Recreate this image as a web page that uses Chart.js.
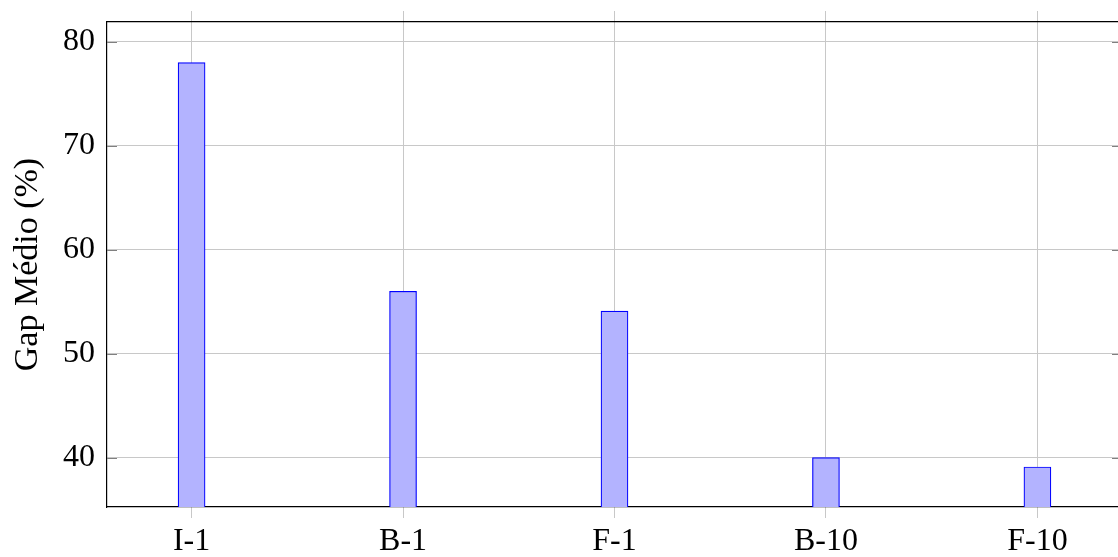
<!DOCTYPE html>
<html>
<head>
<meta charset="utf-8">
<script src="https://cdn.jsdelivr.net/npm/chart.js@4"></script>
<style>
  html, body { margin: 0; padding: 0; background: #fff; overflow: hidden; }
  #wrap { width: 1130px; height: 557px; position: relative; }
</style>
</head>
<body>
<div id="wrap"><canvas id="c"></canvas></div>
<script>
var categories = ['I-1', 'B-1', 'F-1', 'B-10', 'F-10']
var gapMedio = [78, 56, 54.1, 40, 39.1]
var yTicks = [40, 50, 60, 70, 80]

var FONT = '"Liberation Serif", "Times New Roman", serif'
var GRID = '#c8c8c8'

function catTicks(s) { s.ticks = categories.map(function(c, i) { return {value: i} }) }

// pgfplots draws the y ticks inside the axes, chart.js only outside
var innerTicks = {
  id: 'innerTicks',
  afterDraw: function(chart) {
    var ctx = chart.ctx, a = chart.chartArea, y = chart.scales.y
    ctx.save()
    ctx.strokeStyle = '#808080'
    ctx.lineWidth = 1
    yTicks.forEach(function(v) {
      var py = Math.round(y.getPixelForValue(v)) + 0.5
      ctx.beginPath()
      ctx.moveTo(a.left, py); ctx.lineTo(a.left + 10, py)
      ctx.moveTo(a.right - 10, py); ctx.lineTo(a.right, py)
      ctx.stroke()
    })
    ctx.restore()
  }
}

new Chart(document.getElementById('c'), {
  type: 'bar',
  data: {
    datasets: [{
      data: gapMedio.map(function(v, i) { return {x: i, y: v} }),
      backgroundColor: '#b3b3ff',
      borderColor: '#0000ff',
      borderWidth: 1.2,
      borderSkipped: false,
      barThickness: 27
    }]
  },
  options: {
    responsive: true,
    maintainAspectRatio: false,
    animation: false,
    layout: { padding: { top: 0, right: 8, bottom: 0, left: 0 } },
    plugins: { legend: { display: false }, tooltip: { enabled: false } },
    scales: {
      x: {
        type: 'linear',
        offset: false,
        min: -0.4, max: 4.4,
        afterBuildTicks: catTicks,
        afterFit: function(s) { s.height = 50; s.paddingLeft = 0; s.paddingRight = 0 },
        ticks: {
          callback: function(v) { return categories[v] },
          font: { family: FONT, size: 32 },
          color: '#000',
          padding: 4,
          maxRotation: 0
        },
        grid: { offset: false, color: GRID, tickColor: GRID, tickLength: 11, lineWidth: 1 },
        border: { color: '#000', width: 1.2 }
      },
      x2: {
        type: 'linear',
        position: 'top',
        offset: false,
        min: -0.4, max: 4.4,
        afterBuildTicks: catTicks,
        afterFit: function(s) { s.height = 22; s.paddingLeft = 0; s.paddingRight = 0 },
        ticks: { display: false },
        grid: { offset: false, drawOnChartArea: false, tickColor: GRID, tickLength: 11 },
        border: { color: '#000', width: 1.2 }
      },
      y: {
        min: 35.25, max: 81.9,
        afterBuildTicks: function(s) { s.ticks = yTicks.map(function(v) { return {value: v} }) },
        afterFit: function(s) { s.width = 107; s.paddingTop = 0; s.paddingBottom = 0 },
        ticks: {
          font: { family: FONT, size: 32 },
          color: '#000',
          padding: 12
        },
        grid: { color: GRID, drawTicks: false, lineWidth: 1 },
        border: { color: '#000', width: 1.2 },
        title: {
          display: true,
          text: 'Gap Médio (%)',
          font: { family: FONT, size: 34 },
          color: '#000',
          padding: { top: 8, bottom: 0 }
        }
      }
    }
  },
  plugins: [innerTicks]
})
</script>
</body>
</html>
